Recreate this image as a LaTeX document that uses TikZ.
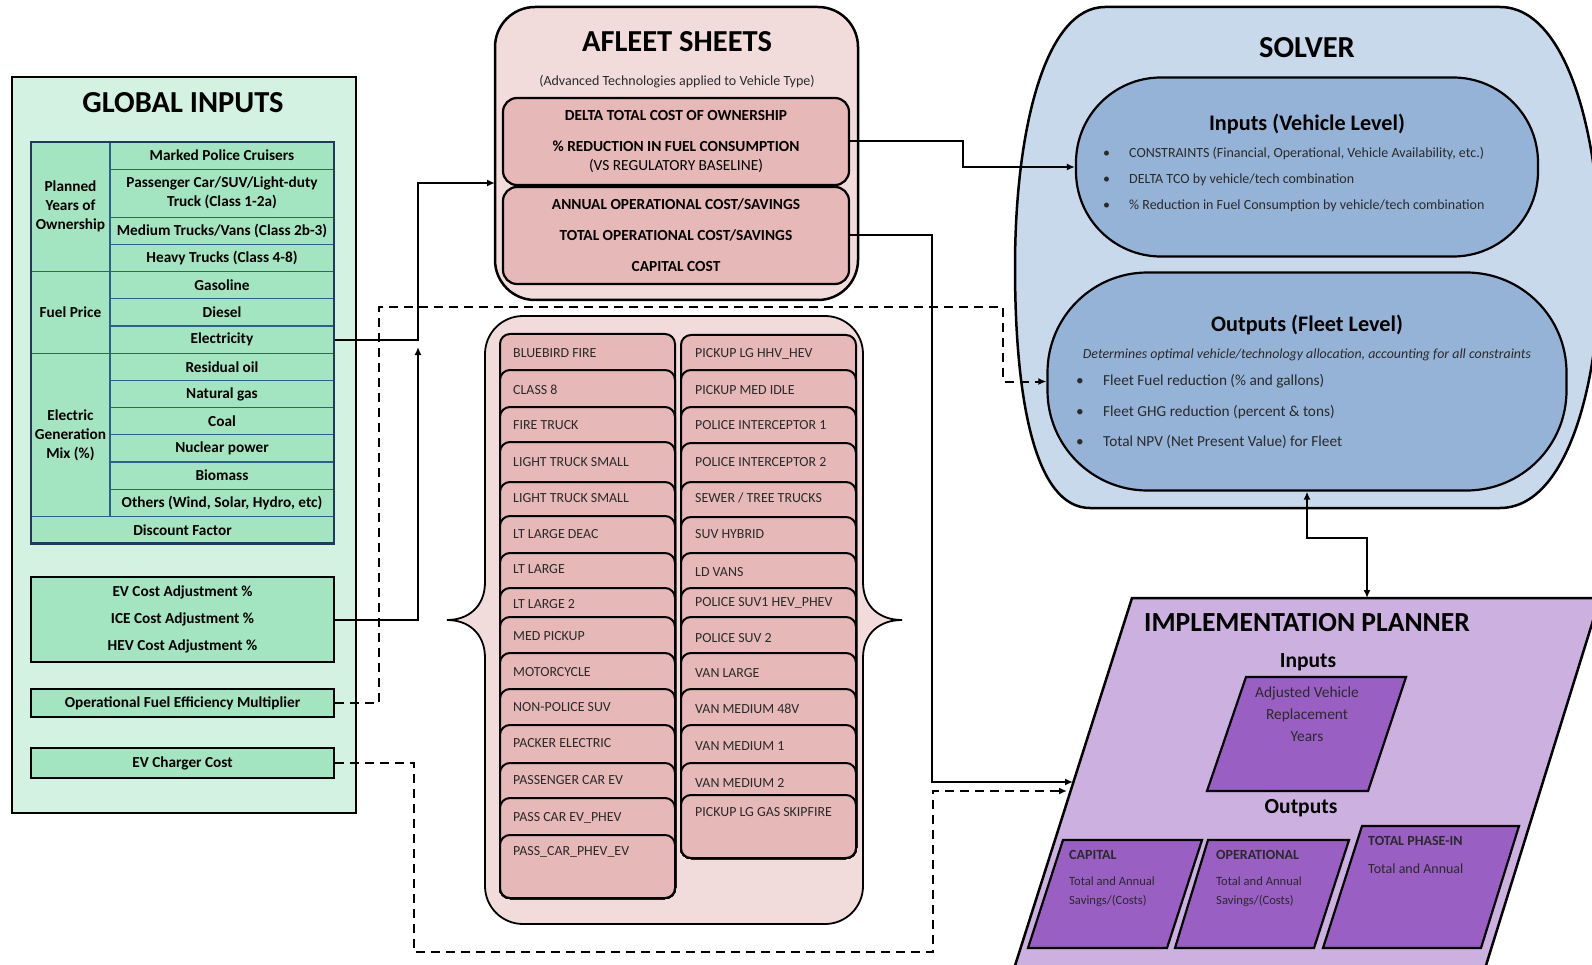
\documentclass[tikz,border=0pt]{standalone}
\usepackage{fontspec}
\setmainfont{Carlito}
\usepackage{tikz}
\usetikzlibrary{arrows.meta}

\definecolor{gimint}{HTML}{D3F2E2}
\definecolor{gicell}{HTML}{A3E4C1}
\definecolor{giline}{HTML}{2E5E8E}
\definecolor{giedge}{HTML}{1F3A5A}
\definecolor{afpale}{HTML}{F2DCDB}
\definecolor{afrose}{HTML}{E6B8B7}
\definecolor{svpale}{HTML}{C9D9EC}
\definecolor{svmid}{HTML}{95B3D7}
\definecolor{plpale}{HTML}{CCB0E0}
\definecolor{plmid}{HTML}{9A5FC3}
\definecolor{itemink}{HTML}{2A2A2A}

\begin{document}
\begin{tikzpicture}[x=1pt,y=-1pt,
  bigtitle/.style={inner sep=0pt,font=\bfseries\fontsize{30.5}{36}\selectfont},
  subtitle/.style={inner sep=0pt,font=\bfseries\fontsize{22.2}{26}\selectfont},
  cellbox/.style={draw=giline,line width=1.2pt,fill=gicell,inner sep=0pt,align=center,font=\bfseries\fontsize{15.3}{19}\selectfont},
  gibox/.style={draw,line width=2.5pt,fill=gicell,inner sep=0pt,align=center,font=\bfseries\fontsize{15.3}{27}\selectfont},
  afrow/.style={draw,line width=2.2pt,fill=afrose,rounded corners=14pt,inner sep=0pt,align=center,font=\bfseries\fontsize{15.4}{31}\selectfont},
  listitem/.style={draw,line width=2pt,fill=afrose,rounded corners=10pt},
  itemtext/.style={anchor=west,inner sep=0pt,text height=9pt,text depth=0pt,text=itemink,font=\fontsize{13.9}{16}\selectfont},
  planbox/.style={draw,line width=2.2pt,fill=plmid},
  plantext/.style={anchor=west,inner sep=0pt,align=left,text=itemink,font=\fontsize{12.6}{19}\selectfont},
  planhead/.style={anchor=west,inner sep=0pt,text=itemink,font=\bfseries\fontsize{14}{16}\selectfont},
  bullet/.style={anchor=west,inner sep=0pt,text=itemink},
  flow/.style={line width=2pt,-{Latex[length=8pt,width=7pt]}},
  dflow/.style={flow,dash pattern=on 9pt off 6pt},
  bothflow/.style={line width=2pt,{Latex[length=8pt,width=7pt]}-{Latex[length=8pt,width=7pt]}}]
\fill[white] (0,0) rectangle (1592,965);
\useasboundingbox (0,0) rectangle (1592,965);

\node[draw,line width=2.5pt,fill=gimint,minimum width=344pt,minimum height=736pt] (global) at (184,445) {};
\node[bigtitle] (globaltitle) at (183,103) {GLOBAL INPUTS};
\node[cellbox,minimum width=79pt,minimum height=129.6pt] (ownyears) at (70.5,206.8) {Planned\\Years of\\Ownership};
\node[cellbox,minimum width=79pt,minimum height=81.6pt] (fuelprice) at (70.5,312.4) {Fuel Price};
\node[cellbox,minimum width=79pt,minimum height=163.2pt] (genmix) at (70.5,434.8) {Electric\\Generation\\Mix (\%)};
\node[cellbox,minimum width=224pt,minimum height=27.2pt] (police) at (222,155.6) {Marked Police Cruisers};
\node[cellbox,minimum width=224pt,minimum height=48pt] (passcar) at (222,193.2) {Passenger Car/SUV/Light-duty\\Truck (Class 1-2a)};
\node[cellbox,minimum width=224pt,minimum height=27.2pt] (medtruck) at (222,230.8) {Medium Trucks/Vans (Class 2b-3)};
\node[cellbox,minimum width=224pt,minimum height=27.2pt] (heavytruck) at (222,258) {Heavy Trucks (Class 4-8)};
\node[cellbox,minimum width=224pt,minimum height=27.2pt] (gasoline) at (222,285.2) {Gasoline};
\node[cellbox,minimum width=224pt,minimum height=27.2pt] (diesel) at (222,312.4) {Diesel};
\node[cellbox,minimum width=224pt,minimum height=27.2pt] (elec) at (222,339.6) {Electricity};
\node[cellbox,minimum width=224pt,minimum height=27.2pt] (resoil) at (222,366.8) {Residual oil};
\node[cellbox,minimum width=224pt,minimum height=27.2pt] (natgas) at (222,394) {Natural gas};
\node[cellbox,minimum width=224pt,minimum height=27.2pt] (coal) at (222,421.2) {Coal};
\node[cellbox,minimum width=224pt,minimum height=27.2pt] (nuclear) at (222,448.4) {Nuclear power};
\node[cellbox,minimum width=224pt,minimum height=27.2pt] (biomass) at (222,475.6) {Biomass};
\node[cellbox,minimum width=224pt,minimum height=27.2pt] (others) at (222,502.8) {Others (Wind, Solar, Hydro, etc)};
\node[cellbox,minimum width=303pt,minimum height=27.2pt] (discount) at (182.5,530) {Discount Factor};
\node[draw=giedge,line width=2.5pt,minimum width=303pt,minimum height=401.6pt] (gitable) at (182.5,342.8) {};
\node[gibox,minimum width=303pt,minimum height=85pt] (evcost) at (182.5,619.5) {EV Cost Adjustment \%\\ICE Cost Adjustment \%\\HEV Cost Adjustment \%};
\node[gibox,minimum width=303pt,minimum height=28pt] (fuelmult) at (182.5,703) {Operational Fuel Efficiency Multiplier};
\node[gibox,minimum width=303pt,minimum height=30pt] (charger) at (182.5,763) {EV Charger Cost};

\node[draw,line width=2.5pt,fill=afpale,rounded corners=40pt,minimum width=363pt,minimum height=293pt] (afleet) at (676.5,153.5) {};
\node[bigtitle] (afleettitle) at (677,42) {AFLEET SHEETS};
\node[inner sep=0pt,text=itemink,font=\fontsize{14}{16}\selectfont] (afleetnote) at (677,82) {(Advanced Technologies applied to Vehicle Type)};
\node[afrow,minimum width=346pt,minimum height=87pt] (tcorow) at (676,141.5) {DELTA TOTAL COST OF OWNERSHIP\\\% REDUCTION IN FUEL CONSUMPTION\\[-12pt]{\mdseries (VS REGULATORY BASELINE)}};
\node[afrow,minimum width=346pt,minimum height=97pt] (costrow) at (676,235.5) {ANNUAL OPERATIONAL COST/SAVINGS\\TOTAL OPERATIONAL COST/SAVINGS\\CAPITAL COST};

\draw[line width=1.8pt,fill=afpale] (523,316) -- (825,316) .. controls (846,316) and (863,333) .. (863,354) -- (863,582) .. controls (863,607) and (880,620) .. (902,620) .. controls (880,620) and (863,633) .. (863,658) -- (863,886) .. controls (863,907) and (846,924) .. (825,924) -- (523,924) .. controls (502,924) and (485,907) .. (485,886) -- (485,658) .. controls (485,633) and (468,620) .. (447,620) .. controls (468,620) and (485,607) .. (485,582) -- (485,354) .. controls (485,333) and (502,316) .. (523,316) -- cycle;
\draw[listitem] (500,334) rectangle (675,898);
\node[itemtext] (bluebird) at (513,353) {BLUEBIRD FIRE};
\draw[listitem] (500,370) rectangle (675,898);
\node[itemtext] (classeight) at (513,390) {CLASS 8};
\draw[listitem] (500,407) rectangle (675,898);
\node[itemtext] (firetruck) at (513,425) {FIRE TRUCK};
\draw[listitem] (500,442) rectangle (675,898);
\node[itemtext] (ltsmall) at (513,462) {LIGHT TRUCK SMALL};
\draw[listitem] (500,482) rectangle (675,898);
\node[itemtext] (ltsmallb) at (513,498) {LIGHT TRUCK SMALL};
\draw[listitem] (500,516) rectangle (675,898);
\node[itemtext] (ltdeac) at (513,534) {LT LARGE DEAC};
\draw[listitem] (500,553) rectangle (675,898);
\node[itemtext] (ltlarge) at (513,569) {LT LARGE};
\draw[listitem] (500,588) rectangle (675,898);
\node[itemtext] (ltlargeb) at (513,604) {LT LARGE 2};
\draw[listitem] (500,617) rectangle (675,898);
\node[itemtext] (medpickup) at (513,636) {MED PICKUP};
\draw[listitem] (500,653) rectangle (675,898);
\node[itemtext] (motorcycle) at (513,672) {MOTORCYCLE};
\draw[listitem] (500,689) rectangle (675,898);
\node[itemtext] (nonpolice) at (513,707) {NON-POLICE SUV};
\draw[listitem] (500,725) rectangle (675,898);
\node[itemtext] (packer) at (513,743) {PACKER ELECTRIC};
\draw[listitem] (500,763) rectangle (675,898);
\node[itemtext] (passev) at (513,780) {PASSENGER CAR EV};
\draw[listitem] (500,798) rectangle (675,898);
\node[itemtext] (passphev) at (513,817) {PASS CAR EV\_PHEV};
\draw[listitem] (500,835) rectangle (675,898);
\node[itemtext] (passphevev) at (513,851) {PASS\_CAR\_PHEV\_EV};
\draw[listitem] (681,335) rectangle (856,858);
\node[itemtext] (pickuphhv) at (695,353) {PICKUP LG HHV\_HEV};
\draw[listitem] (681,370) rectangle (856,858);
\node[itemtext] (pickupidle) at (695,390) {PICKUP MED IDLE};
\draw[listitem] (681,407) rectangle (856,858);
\node[itemtext] (intercept) at (695,425) {POLICE INTERCEPTOR 1};
\draw[listitem] (681,443) rectangle (856,858);
\node[itemtext] (interceptb) at (695,462) {POLICE INTERCEPTOR 2};
\draw[listitem] (681,482) rectangle (856,858);
\node[itemtext] (sewer) at (695,498) {SEWER / TREE TRUCKS};
\draw[listitem] (681,517) rectangle (856,858);
\node[itemtext] (suvhybrid) at (695,534) {SUV HYBRID};
\draw[listitem] (681,553) rectangle (856,858);
\node[itemtext] (ldvans) at (695,572) {LD VANS};
\draw[listitem] (681,588) rectangle (856,858);
\node[itemtext] (policesuv) at (695,602) {POLICE SUV1 HEV\_PHEV};
\draw[listitem] (681,617) rectangle (856,858);
\node[itemtext] (policesuvb) at (695,638) {POLICE SUV 2};
\draw[listitem] (681,653) rectangle (856,858);
\node[itemtext] (vanlarge) at (695,673) {VAN LARGE};
\draw[listitem] (681,689) rectangle (856,858);
\node[itemtext] (vanmedv) at (695,709) {VAN MEDIUM 48V};
\draw[listitem] (681,725) rectangle (856,858);
\node[itemtext] (vanmed) at (695,746) {VAN MEDIUM 1};
\draw[listitem] (681,763) rectangle (856,858);
\node[itemtext] (vanmedb) at (695,783) {VAN MEDIUM 2};
\draw[listitem] (681,795) rectangle (856,858);
\node[itemtext] (skipfire) at (695,812) {PICKUP LG GAS SKIPFIRE};

\draw[line width=2.5pt,fill=svpale] (1105,7) -- (1500,7) .. controls (1565,7) and (1600,130) .. (1600,260) .. controls (1600,390) and (1565,508) .. (1500,508) -- (1090,508) .. controls (1035,508) and (1015,400) .. (1015,267) .. controls (1015,130) and (1045,7) .. (1105,7) -- cycle;
\node[bigtitle] (solvertitle) at (1307,48) {SOLVER};
\node[draw,line width=2.2pt,fill=svmid,rounded corners=85pt,minimum width=462pt,minimum height=179pt] (vehin) at (1307,167) {};
\node[subtitle] (vehintitle) at (1307,124) {Inputs (Vehicle Level)};
\node[bullet,font=\fontsize{14}{16}\selectfont] (constraints) at (1103,154) {\makebox[26pt][l]{\textbullet}CONSTRAINTS (Financial, Operational, Vehicle Availability, etc.)};
\node[bullet,font=\fontsize{14}{16}\selectfont] (deltatco) at (1103,180) {\makebox[26pt][l]{\textbullet}DELTA TCO by vehicle/tech combination};
\node[bullet,font=\fontsize{14}{16}\selectfont] (reduction) at (1103,206) {\makebox[26pt][l]{\textbullet}\% Reduction in Fuel Consumption by vehicle/tech combination};
\node[draw,line width=2.2pt,fill=svmid,rounded corners=100pt,minimum width=519pt,minimum height=218pt] (fleetout) at (1307,381.5) {};
\node[subtitle] (fleettitle) at (1307,325) {Outputs (Fleet Level)};
\node[inner sep=0pt,text=itemink,font=\itshape\fontsize{13.9}{16}\selectfont] (fleetnote) at (1307,355) {Determines optimal vehicle/technology allocation, accounting for all constraints};
\node[bullet,font=\fontsize{15.3}{18}\selectfont] (fuelcut) at (1076,381) {\makebox[27pt][l]{\textbullet}Fleet Fuel reduction (\% and gallons)};
\node[bullet,font=\fontsize{15.3}{18}\selectfont] (ghgcut) at (1076,412) {\makebox[27pt][l]{\textbullet}Fleet GHG reduction (percent \& tons)};
\node[bullet,font=\fontsize{15.3}{18}\selectfont] (npv) at (1076,442) {\makebox[27pt][l]{\textbullet}Total NPV (Net Present Value) for Fleet};

\draw[line width=2.5pt,fill=plpale] (1132,598) -- (1600,598) -- (1483,975) -- (1012,975) -- cycle;
\node[bigtitle,font=\bfseries\fontsize{27.6}{32}\selectfont] (plantitle) at (1307,623) {IMPLEMENTATION PLANNER};
\node[subtitle,font=\bfseries\fontsize{21.5}{26}\selectfont] (planin) at (1308,662) {Inputs};
\draw[planbox] (1246,677) -- (1406,677) -- (1368,791) -- (1207,791) -- cycle;
\node[inner sep=0pt,align=center,text=itemink,font=\fontsize{15.4}{22}\selectfont] (replyears) at (1307,714) {Adjusted Vehicle\\Replacement\\Years};
\node[subtitle,font=\bfseries\fontsize{21.5}{26}\selectfont] (planout) at (1301,808) {Outputs};
\draw[planbox] (1063,840) -- (1202,840) -- (1167,948) -- (1028,948) -- cycle;
\node[planhead] (capital) at (1069,855) {CAPITAL};
\node[plantext] (capitaltext) at (1069,891.5) {Total and Annual\\Savings/(Costs)};
\draw[planbox] (1208,840) -- (1349,840) -- (1314,948) -- (1175,948) -- cycle;
\node[planhead] (operational) at (1216,855) {OPERATIONAL};
\node[plantext] (operationaltext) at (1216,891.5) {Total and Annual\\Savings/(Costs)};
\draw[planbox] (1362,826) -- (1519,826) -- (1481,948) -- (1323,948) -- cycle;
\node[planhead] (phasein) at (1368,841) {TOTAL PHASE-IN};
\node[plantext,font=\fontsize{14}{16}\selectfont] (phaseintext) at (1368,869) {Total and Annual};

\coordinate (afin) at (495,183);
\coordinate (evjoin) at (418,347);
\coordinate (plansolid) at (1073,782);
\coordinate (plandash) at (1067,791);
\coordinate (plantop) at (1367,598);
\draw[flow] (elec.east) -| (418,183) -- (afin);
\draw[flow] (evcost.east) -| (evjoin);
\draw[dflow] (fuelmult.east) -| (379,307) -| (1003,381.5) -- (fleetout.west);
\draw[dflow] (charger.east) -| (414,952) -| (933,791) -- (plandash);
\draw[flow] (tcorow.east) -| (963,167) -- (vehin.west);
\draw[flow] (costrow.east) -| (932,782) -- (plansolid);
\draw[bothflow] (fleetout.south) -- (1307,538) -| (plantop);
\end{tikzpicture}
\end{document}
